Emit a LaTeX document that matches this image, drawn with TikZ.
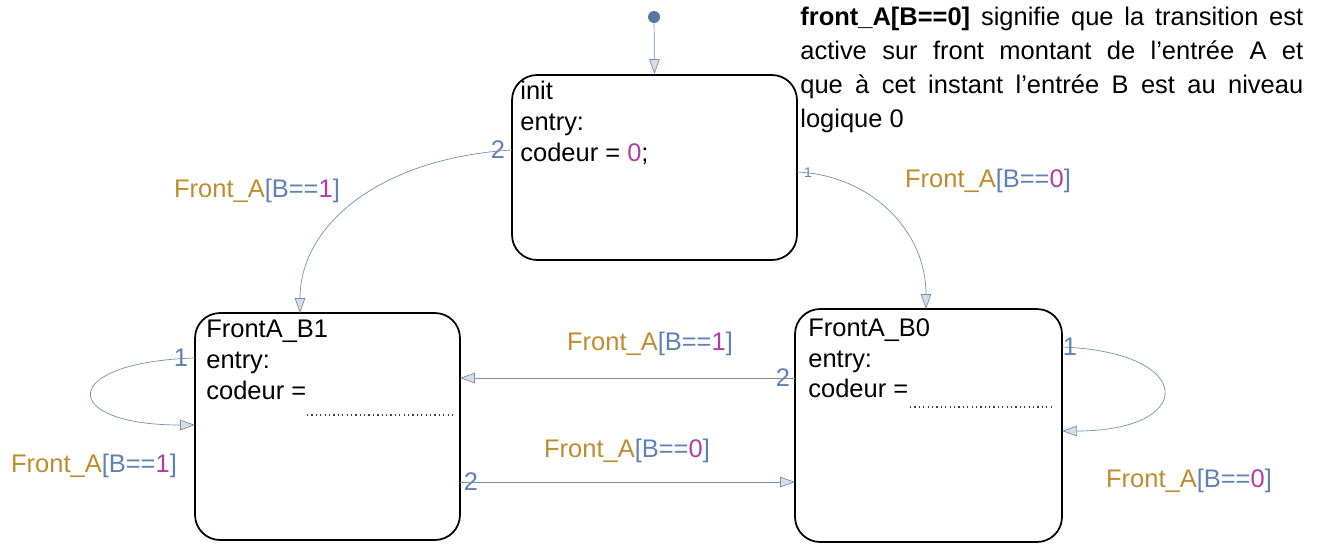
\documentclass[tikz,border=0pt]{standalone}
\usepackage{fontspec}
\setmainfont{Liberation Sans}
\usetikzlibrary{arrows.meta,calc}

\definecolor{fgold}{RGB}{190,140,45}
\definecolor{fblue}{RGB}{95,130,180}
\definecolor{fmag}{RGB}{180,60,170}
\definecolor{tline}{RGB}{115,145,175}
\definecolor{tfill}{RGB}{212,222,228}

\newcommand{\cond}[1]{\textcolor{fgold}{Front\_A}\textcolor{fblue}{[B==}\textcolor{fmag}{#1}\textcolor{fblue}{]}}

\tikzset{
  state/.style={draw=black, line width=1pt, rounded corners=0.5cm, inner sep=0pt},
  stxt/.style={anchor=north west, inner sep=0pt, align=left,
               font=\fontsize{14.5}{17.6}\selectfont},
  trans/.style={draw=tline, -{Triangle[fill=tfill, length=8.5pt, width=6pt]}},
  num/.style={text=fblue, inner sep=0pt, font=\fontsize{14.5}{17}\selectfont},
  cnd/.style={inner sep=0pt, font=\fontsize{14.5}{17}\selectfont},
  dots/.style={black!75, line width=0.8pt, dash pattern=on 0.7pt off 1.8pt}
}

\begin{document}
\begin{tikzpicture}[x=0.02cm, y=-0.02cm]

  \useasboundingbox (0,0) rectangle (1317,545);

  %states
  \foreach \name/\cx/\cy/\w/\h in {init/654.5/167.5/5.7/3.7, fab1/327.5/426.5/5.3/4.54, fab0/928.5/425.5/5.34/4.66}{
      \node[state, minimum width=\w cm, minimum height=\h cm] (\name) at (\cx,\cy) {};
  }

  %state texts
  \node[stxt] (init-t) at (520,81) {init\\entry:\\codeur = \textcolor{fmag}{0};};
  \node[stxt] (fab1-t) at (206,320) {FrontA\_B1\\entry:\\codeur =};
  \node[stxt] (fab0-t) at (808,318) {FrontA\_B0\\entry:\\codeur =};

  \draw[dots] (307,415) -- (453,415);
  \draw[dots] (910,407) -- (1052,407);

  %default transition
  \node[circle, fill=fblue!90!black, inner sep=0pt, minimum size=0.24cm] (start) at (654,17) {};
  \draw[trans] (start) -- (init.north);

  %transition end points
  \coordinate (i-w) at (512,150);
  \coordinate (i-e) at (797,172);
  \coordinate (b1-n) at (300,313);
  \coordinate (b0-n) at (926,309);
  \coordinate (b1-e1) at (460,378);
  \coordinate (b1-e2) at (460,482);
  \coordinate (b0-w1) at (795,378);
  \coordinate (b0-w2) at (795,482);
  \coordinate (b1-w1) at (195,358);
  \coordinate (b1-w2) at (195,425);
  \coordinate (b0-e1) at (1062,347);
  \coordinate (b0-e2) at (1062,431);

  \draw[trans] (i-w) .. controls (380,158) and (300,225) .. (b1-n);
  \draw[trans] (i-e) .. controls (870,175) and (926,230) .. (b0-n);
  \draw[trans] (b0-w1) -- (b1-e1);
  \draw[trans] (b1-e2) -- (b0-w2);
  \draw[trans] (b1-w1) .. controls (58,362) and (58,425) .. (b1-w2);
  \draw[trans] (b0-e1) .. controls (1197,352) and (1197,431) .. (b0-e2);

  %priorities
  \foreach \x/\y/\n/\name in {498/150/2/p1, 181/358/1/p2, 783/378/2/p3, 471/482/2/p4, 1070/347/1/p5}{
      \node[num] (\name) at (\x,\y) {\n};
  }
  \node[num, font=\fontsize{8}{9}\selectfont] (p6) at (808,173) {1};

  %conditions
  \node[cnd] (c1) at (257,191) {\cond{1}};
  \node[cnd] (c2) at (988,181) {\cond{0}};
  \node[cnd] (c3) at (650,344) {\cond{1}};
  \node[cnd] (c4) at (627,451) {\cond{0}};
  \node[cnd] (c5) at (94,466) {\cond{1}};
  \node[cnd] (c6) at (1189,481) {\cond{0}};

  %note
  \node[anchor=north west, inner sep=0pt, text width=10.06cm, align=justify,
        font=\fontsize{14.5}{19.3}\selectfont] (note) at (800,7)
    {\textbf{front\_A[B==0]} signifie que la transition est\linebreak
     active sur front montant de l’entrée A et\linebreak
     que à cet instant l’entrée B est au niveau\linebreak
     logique 0};

\end{tikzpicture}
\end{document}
